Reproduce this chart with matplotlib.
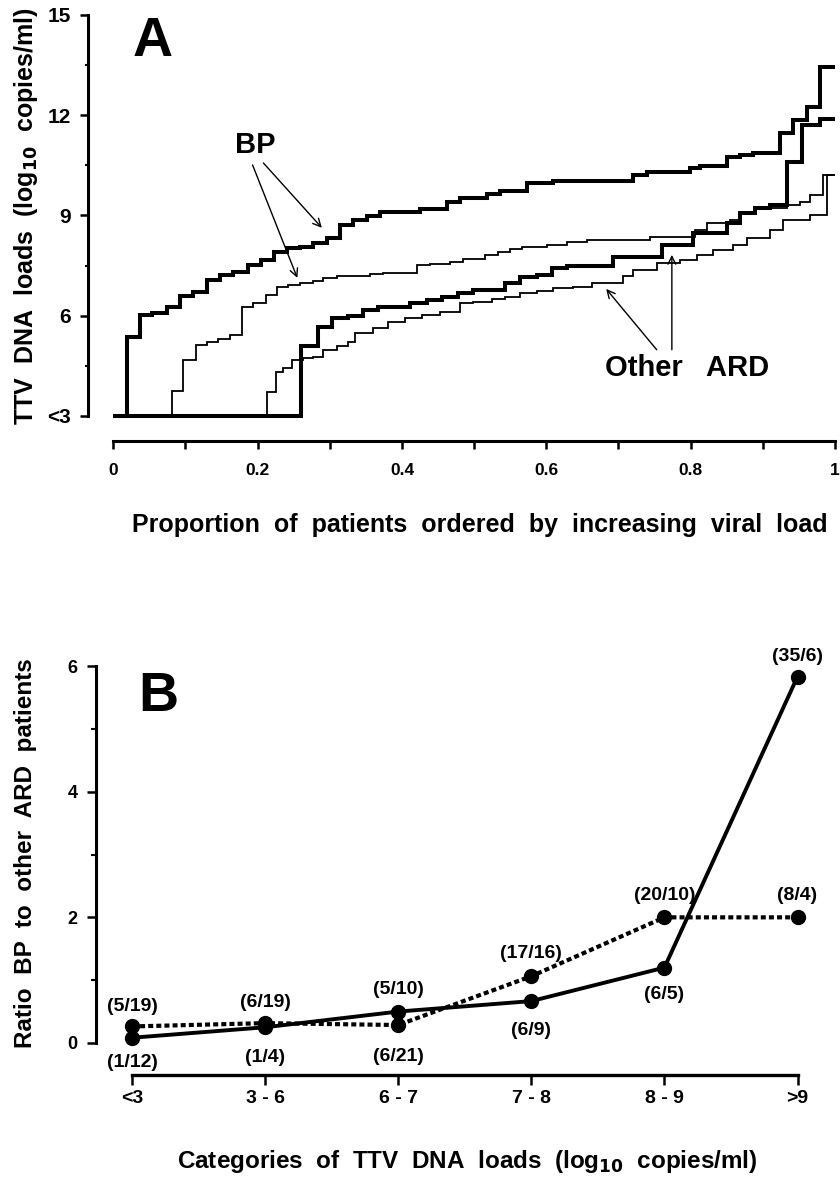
"""TTV DNA loads: cumulative distributions (A) and BP / other ARD ratios (B)."""

import matplotlib

matplotlib.use("Agg")
import matplotlib.pyplot as plt
from matplotlib.ticker import FixedLocator

plt.rcParams["font.family"] = ["Liberation Sans", "DejaVu Sans"]
plt.rcParams["font.weight"] = "bold"
plt.rcParams["mathtext.default"] = "bf"

# ---- panel A: step curves (proportion of patients, log10 copies/ml) ----
bp_thick_p = [0, 0.019, 0.037, 0.054, 0.075, 0.093, 0.111, 0.130, 0.148, 0.166,
              0.186, 0.204, 0.222, 0.241, 0.259, 0.277, 0.296, 0.314, 0.332,
              0.352, 0.370, 0.425, 0.463, 0.481, 0.518, 0.536, 0.573, 0.609,
              0.720, 0.740, 0.799, 0.813, 0.850, 0.868, 0.886, 0.924, 0.942,
              0.961, 0.979, 1.0]
bp_thick_v = [3.0, 5.37, 6.02, 6.08, 6.26, 6.59, 6.71, 7.07, 7.22, 7.31,
              7.52, 7.67, 7.91, 8.03, 8.06, 8.18, 8.33, 8.72, 8.87,
              8.99, 9.11, 9.20, 9.41, 9.53, 9.65, 9.74, 9.98, 10.04,
              10.22, 10.31, 10.43, 10.49, 10.75, 10.81, 10.87, 11.47, 11.86,
              12.25, 13.45, 13.45]

bp_thin_p = [0, 0.082, 0.097, 0.114, 0.130, 0.145, 0.162, 0.179, 0.194, 0.211,
             0.227, 0.242, 0.259, 0.277, 0.291, 0.310, 0.356, 0.374, 0.421,
             0.439, 0.467, 0.485, 0.515, 0.533, 0.550, 0.566, 0.601, 0.629,
             0.657, 0.744, 0.806, 0.823, 0.855, 0.868, 0.889, 0.934, 0.952,
             0.965, 0.983, 1.0]
bp_thin_v = [3.0, 3.75, 4.68, 5.13, 5.22, 5.31, 5.43, 6.26, 6.38, 6.62,
             6.86, 6.92, 6.98, 7.04, 7.13, 7.19, 7.25, 7.28, 7.52,
             7.55, 7.61, 7.70, 7.82, 7.91, 8.00, 8.06, 8.12, 8.21,
             8.27, 8.36, 8.57, 8.78, 8.87, 9.08, 9.23, 9.32, 9.41,
             9.62, 10.22, 10.22]

ard_thick_p = [0, 0.260, 0.283, 0.303, 0.325, 0.346, 0.367, 0.411, 0.435,
               0.456, 0.478, 0.499, 0.543, 0.564, 0.587, 0.608, 0.629, 0.693,
               0.760, 0.803, 0.850, 0.868, 0.889, 0.910, 0.934, 0.954, 0.979,
               1.0]
ard_thick_v = [3.0, 5.10, 5.66, 5.93, 5.99, 6.17, 6.26, 6.38, 6.47,
               6.56, 6.68, 6.77, 6.98, 7.16, 7.22, 7.43, 7.49, 7.76,
               8.12, 8.48, 8.78, 9.08, 9.23, 9.32, 10.60, 11.71, 11.89,
               11.89]

ard_thin_p = [0, 0.213, 0.226, 0.235, 0.248, 0.263, 0.277, 0.291, 0.310,
              0.325, 0.335, 0.360, 0.381, 0.404, 0.428, 0.453, 0.481, 0.499,
              0.525, 0.543, 0.564, 0.587, 0.609, 0.637, 0.663, 0.706, 0.720,
              0.753, 0.785, 0.809, 0.831, 0.859, 0.878, 0.910, 0.928, 0.965,
              0.989, 1.0]
ard_thin_v = [3.0, 3.72, 4.32, 4.44, 4.68, 4.74, 4.77, 4.98, 5.10,
              5.22, 5.49, 5.63, 5.81, 5.93, 6.02, 6.11, 6.38, 6.41,
              6.50, 6.56, 6.68, 6.74, 6.83, 6.86, 6.98, 7.19, 7.37,
              7.58, 7.67, 7.82, 7.97, 8.12, 8.33, 8.57, 8.87, 9.02,
              10.22, 10.22]

a_yticks = [3, 6, 9, 12, 15]
a_yticklabels = ["<3", "6", "9", "12", "15"]
a_xticks = [0, 0.2, 0.4, 0.6, 0.8, 1.0]
a_xticklabels = ["0", "0.2", "0.4", "0.6", "0.8", "1"]

# ---- panel B: ratio BP / other ARD per load category ----
categories = ["<3", "3 - 6", "6 - 7", "7 - 8", "8 - 9", ">9"]
solid_bp = [1, 1, 5, 6, 6, 35]
solid_ard = [12, 4, 10, 9, 5, 6]
dotted_bp = [5, 6, 6, 17, 20, 8]
dotted_ard = [19, 19, 21, 16, 10, 4]
# label offsets in pixels (above > 0, below < 0)
solid_offsets = [-25, -30, 22, -29, -27, 20]
dotted_offsets = [20, 21, -31, 23, 22, 22]

fig = plt.figure(figsize=(8.4, 11.79), dpi=100)

# ================= panel A =================
ax = fig.add_axes([0.1048, 0.626, 0.8892, 0.3613])
for p, v, lw in ((bp_thick_p, bp_thick_v, 2.9), (ard_thick_p, ard_thick_v, 2.9),
                 (bp_thin_p, bp_thin_v, 1.3), (ard_thin_p, ard_thin_v, 1.3)):
    ax.step(p, v, where="post", color="black", linewidth=lw,
            solid_joinstyle="miter", solid_capstyle="butt")
ax.set_xlim(-0.035, 1.0)
ax.set_ylim(2.25, 15)
for side in ("top", "right"):
    ax.spines[side].set_visible(False)
ax.spines["left"].set_bounds(3, 15)
ax.spines["bottom"].set_bounds(0, 1)
ax.spines["left"].set_linewidth(2.2)
ax.spines["bottom"].set_linewidth(2.2)
ax.set_yticks(a_yticks)
ax.set_yticklabels(a_yticklabels, fontsize=15, fontweight="bold")
ax.yaxis.set_minor_locator(FixedLocator([4.5, 7.5, 10.5, 13.5]))
ax.set_xticks(a_xticks)
ax.set_xticklabels(a_xticklabels, fontsize=12.5, fontweight="bold")
ax.xaxis.set_minor_locator(FixedLocator([0.1, 0.3, 0.5, 0.7, 0.9]))
ax.tick_params(axis="y", which="major", length=6, width=1.8, pad=6)
ax.tick_params(axis="y", which="minor", length=2.5, width=1.5)
ax.tick_params(axis="x", which="both", length=6, width=1.8, pad=10)
ax.set_ylabel("TTV  DNA  loads  (log$_{10}$  copies/ml)", fontsize=18,
              fontweight="bold", va="center")
ax.yaxis.set_label_coords(-0.083, 0.527)
ax.set_xlabel("Proportion  of  patients  ordered  by  increasing  viral  load",
              fontsize=18, fontweight="bold", va="center")
ax.xaxis.set_label_coords(0.525, -0.197)

ax.text(0.054, 14.2, "A", fontsize=40, fontweight="bold", ha="center",
        va="center")
ax.text(0.197, 11.11, "BP", fontsize=21, fontweight="bold", ha="center",
        va="center")
ax.text(0.795, 4.44, "Other   ARD", fontsize=21, fontweight="bold",
        ha="center", va="center")
arrow = dict(arrowstyle="->", color="black", lw=1.0, mutation_scale=14,
             shrinkA=0, shrinkB=0)
ax.annotate("", xy=(0.289, 8.63), xytext=(0.208, 10.57), arrowprops=arrow)
ax.annotate("", xy=(0.255, 7.13), xytext=(0.193, 10.51), arrowprops=arrow)
ax.annotate("", xy=(0.683, 6.80), xytext=(0.753, 4.98), arrowprops=arrow)
ax.annotate("", xy=(0.774, 7.82), xytext=(0.774, 4.98), arrowprops=arrow)

# ================= panel B =================
bx = fig.add_axes([0.1143, 0.0882, 0.851, 0.3495])
xs = list(range(len(categories)))
solid_ratio = [b / a for b, a in zip(solid_bp, solid_ard)]
dotted_ratio = [b / a for b, a in zip(dotted_bp, dotted_ard)]
bx.plot(xs, dotted_ratio, color="black", linewidth=3.0,
        linestyle=(0, (1.2, 0.75)), marker="o", markersize=10, zorder=3)
bx.plot(xs, solid_ratio, color="black", linewidth=2.8, marker="o",
        markersize=10, zorder=4)
for x, r, b, a, off in zip(xs, solid_ratio, solid_bp, solid_ard,
                           solid_offsets):
    bx.annotate(f"({b}/{a})", (x, r), xytext=(0, off),
                textcoords="offset pixels", ha="center", va="center",
                fontsize=14, fontweight="bold")
for x, r, b, a, off in zip(xs, dotted_ratio, dotted_bp, dotted_ard,
                           dotted_offsets):
    bx.annotate(f"({b}/{a})", (x, r), xytext=(0, off),
                textcoords="offset pixels", ha="center", va="center",
                fontsize=14, fontweight="bold")

bx.set_xlim(-0.27, 5.1)
bx.set_ylim(-0.51, 6.05)
for side in ("top", "right"):
    bx.spines[side].set_visible(False)
bx.spines["left"].set_bounds(0, 6)
bx.spines["bottom"].set_bounds(0, 5)
bx.spines["left"].set_linewidth(2.2)
bx.spines["bottom"].set_linewidth(2.4)
bx.set_yticks([0, 2, 4, 6])
bx.set_yticklabels(["0", "2", "4", "6"], fontsize=13, fontweight="bold")
bx.yaxis.set_minor_locator(FixedLocator([1, 3, 5]))
bx.set_xticks(xs)
bx.set_xticklabels(categories, fontsize=14, fontweight="bold")
bx.tick_params(axis="y", which="major", length=6.5, width=1.8, pad=7)
bx.tick_params(axis="y", which="minor", length=3.5, width=1.5)
bx.tick_params(axis="x", length=7, width=1.8, pad=4)
bx.set_ylabel("Ratio  BP  to  other  ARD  patients", fontsize=17.5,
              fontweight="bold", va="center")
bx.yaxis.set_label_coords(-0.0993, 0.539)
bx.set_xlabel("Categories  of  TTV  DNA  loads  (log$_{10}$  copies/ml)",
              fontsize=17.5, fontweight="bold", va="center")
bx.xaxis.set_label_coords(0.519, -0.211)
bx.text(0.195, 5.51, "B", fontsize=40, fontweight="bold", ha="center",
        va="center")

fig.savefig("out.png", dpi=100)
